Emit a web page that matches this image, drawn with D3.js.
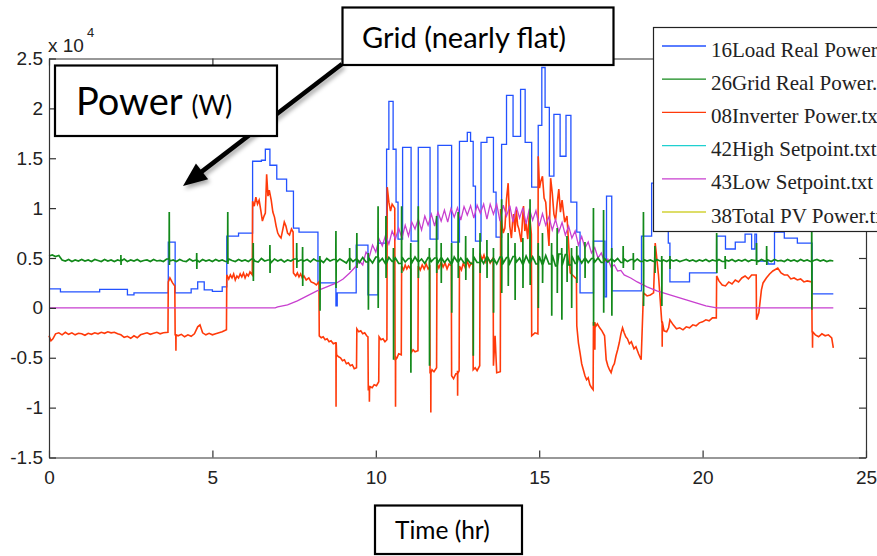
<!DOCTYPE html>
<html>
<head>
<meta charset="utf-8">
<script src="https://cdn.jsdelivr.net/npm/d3@7/dist/d3.min.js"></script>
<style>
  body { margin: 0; background: #fff; }
</style>
</head>
<body>
<div id="chart"></div>
<script>
// legend entries
const seriesNames = ["16Load Real Power", "26Grid Real Power.", "08Inverter Power.txt",
                     "42High Setpoint.txt", "43Low Setpoint.txt", "38Total PV Power.txt"];
const seriesColors = ["#2352ff", "#12891a", "#ff3a0a", "#1fd0d0", "#c83fcf", "#d2d236"];

const xTicks = [0, 5, 10, 15, 20, 25];
const yTicks = [-15000, -10000, -5000, 0, 5000, 10000, 15000, 20000, 25000];

// load: [hour start, W] held until next step
const loadSteps = [[0,1900],[0.35,1600],[1.55,1850],[2.4,1300],[2.6,1500],[3.65,6600],[3.86,1500],
  [4.35,1900],[4.55,2600],[4.75,1800],[5.0,1650],[5.3,2100],[5.44,7200],[5.8,7500],[6.23,14700],
  [6.5,14800],[6.62,15900],[6.76,14300],[6.97,12900],[7.27,11700],[7.48,8000],[7.65,7600],
  [8.23,2500],[8.78,200],[8.82,1500],[9.4,6300],[9.76,1300],[10.07,6500],[10.33,15900],[10.4,20700],
  [10.53,15900],[10.62,10600],[10.68,6900],[10.82,16100],[11.08,6700],[11.3,16100],[11.66,6900],
  [11.9,16300],[12.32,6600],[12.56,16700],[12.8,17600],[12.9,16700],[12.98,12200],[13.05,6700],
  [13.22,16600],[13.4,17100],[13.6,11600],[13.68,7100],[13.85,16400],[14.0,21300],[14.2,17200],
  [14.43,21900],[14.57,16600],[14.77,12100],[14.97,18300],[15.08,24100],[15.18,20100],[15.31,13200],
  [15.45,19400],[15.64,15200],[15.82,19300],[15.97,10600],[16.15,7600],[16.25,1500],[16.66,6700],
  [17.01,1100],[17.06,11200],[17.22,1700],[18.13,7200],[18.44,12500],[18.95,6500],[19.0,2600],
  [19.6,3500],[20.43,7200],[20.7,5900],[21.0,6600],[21.3,7400],[21.5,5900],[21.6,7400],[21.65,4700],
  [22.0,4400],[22.2,7600],[22.5,7000],[22.9,6500],[23.35,1400],[24.0,1400]];

// inverter: [hour, W]
const inverterPts = [[0,-2800],[0.06,-3300],[0.12,-3100],[0.2,-2600],[0.3,-2500],[0.4,-2700],[0.5,-2450],
  [0.6,-2650],[0.7,-2500],[0.8,-2700],[0.9,-2550],[1.0,-2600],[1.1,-2750],[1.2,-2550],[1.3,-2650],
  [1.4,-2500],[1.5,-2600],[1.6,-2450],[1.7,-2550],[1.8,-2400],[1.9,-2500],[2.0,-2450],[2.1,-2600],
  [2.2,-2700],[2.3,-2950],[2.4,-2850],[2.5,-3050],[2.6,-2800],[2.7,-3000],[2.8,-2700],[2.9,-2600],
  [3.0,-2500],[3.1,-2650],[3.2,-2550],[3.3,-2450],[3.4,-2600],[3.5,-2500],[3.64,-2450],[3.65,2600],
  [3.7,3000],[3.78,2500],[3.85,2200],[3.86,-2700],[3.95,-2800],[4.05,-2650],[4.15,-2900],[4.25,-2700],
  [4.35,-2850],[4.45,-2600],[4.55,-1900],[4.62,-1700],[4.7,-2500],[4.8,-2700],[4.9,-2550],[5.0,-2700],
  [5.1,-2600],[5.2,-2500],[5.3,-2400],[5.43,-2200],
  [5.44,3300],[5.5,2900],[5.55,3300],[5.6,3000],[5.65,3400],[5.7,2800],[5.75,3200],[5.8,3000],
  [5.85,3400],[5.9,3100],[5.95,3500],[6.0,3000],[6.05,3400],[6.1,3200],[6.15,3600],[6.22,3300],
  [6.23,10700],[6.28,10200],[6.33,11100],[6.38,10400],[6.43,10800],[6.48,9800],[6.53,8700],[6.58,9200],
  [6.62,9500],[6.66,13400],[6.7,11200],[6.74,11800],[6.8,10800],[6.85,9600],[6.9,9100],[6.95,8200],
  [7.0,7500],[7.05,7200],[7.1,7000],[7.15,7800],[7.2,8600],[7.25,8200],[7.3,7500],[7.36,7300],
  [7.42,7900],[7.47,7600],
  [7.48,3500],[7.55,3200],[7.6,3500],[7.65,3100],[7.7,3400],[7.75,3000],[7.8,3200],[7.87,2800],
  [7.95,3000],[8.02,2600],[8.1,2500],[8.18,2300],[8.26,2600],
  [8.27,-2800],[8.33,-3000],[8.39,-2900],[8.45,-3200],[8.51,-3100],[8.57,-3400],[8.63,-3300],
  [8.7,-3600],[8.77,-3500],
  [8.8,-4700],[8.86,-4900],[8.92,-5000],[8.98,-5300],[9.04,-5200],[9.1,-5600],[9.16,-5500],
  [9.22,-5800],[9.28,-5700],[9.34,-6100],[9.41,-6000],
  [9.42,-2100],[9.48,-2400],[9.54,-2300],[9.6,-2600],[9.66,-2500],[9.72,-2800],[9.76,-2900],
  [9.77,-8200],[9.83,-7900],[9.89,-8000],[9.95,-7700],[10.02,-7800],[10.09,-7400],
  [10.1,-2900],[10.16,-3200],[10.22,-3100],[10.28,-3400],[10.34,-3200],
  [10.35,12100],[10.4,10600],[10.45,9700],[10.5,10400],[10.58,10000],
  [10.59,-5200],[10.65,-5000],[10.7,-4600],[10.78,-4700],
  [10.79,4200],[10.85,3800],[10.9,4300],[10.95,3900],[11.0,4200],[11.07,3900],
  [11.08,-4500],[11.14,-4200],[11.2,-4400],[11.29,-4300],
  [11.3,4200],[11.36,3800],[11.42,4300],[11.48,3900],[11.54,4400],[11.6,3900],[11.65,4100],
  [11.66,-6500],[11.72,-6200],[11.78,-6400],[11.86,-6000],
  [11.87,4500],[11.93,4000],[12.0,4600],[12.06,4100],[12.12,4500],[12.18,3900],[12.24,4400],[12.31,4200],
  [12.32,-6800],[12.38,-7100],[12.45,-6600],[12.55,-6300],
  [12.56,4200],[12.62,3800],[12.68,4500],[12.74,4000],[12.8,4700],[12.86,4100],[12.92,4500],[12.97,4300],
  [12.98,-6200],[13.04,-6000],[13.1,-6300],[13.18,-5800],
  [13.19,5500],[13.25,4800],[13.31,5300],[13.37,4600],[13.43,5000],[13.5,4500],[13.59,5000],
  [13.6,-5800],[13.65,-2800],[13.7,-6500],[13.81,-6400],
  [13.82,9900],[13.86,8400],[13.9,7500],[13.95,8000],[14.0,10900],[14.05,12500],[14.1,8200],[14.15,7000],
  [14.19,8800],[14.22,9400],[14.26,7600],[14.3,9800],[14.34,8300],[14.38,7900],[14.45,6600],
  [14.49,8900],[14.52,10200],[14.56,7700],[14.6,8500],[14.65,6900],[14.7,9600],[14.76,7400],
  [14.77,-2800],[14.87,-2500],[14.96,-2600],
  [14.97,15200],[15.01,12000],[15.05,12700],[15.1,13200],[15.15,11000],[15.2,10600],[15.25,8300],
  [15.3,6200],[15.35,13000],[15.4,11500],[15.45,9400],[15.5,8800],[15.55,10500],[15.6,11900],
  [15.65,9600],[15.7,10800],[15.78,8600],[15.85,9200],[15.9,6400],
  [15.95,3500],[16.05,3200],[16.14,2900],
  [16.15,-1800],[16.2,-3500],[16.25,-4500],[16.3,-5600],[16.35,-6200],[16.4,-6800],[16.45,-7200],
  [16.5,-7000],[16.55,-7700],[16.6,-8000],[16.65,-8200],
  [16.66,-1500],[16.72,-1900],[16.78,-1600],[16.85,-2000],[16.92,-2300],[17.0,-2800],
  [17.05,-5200],[17.1,-5800],[17.15,-6200],[17.2,-6500],[17.25,-5900],[17.3,-5600],[17.35,-4800],
  [17.4,-4200],[17.45,-3500],[17.5,-2600],[17.55,-2000],[17.6,-2500],[17.65,-2900],[17.7,-3100],
  [17.76,-3600],[17.82,-3400],[17.9,-4100],[17.96,-3900],[18.04,-4600],[18.12,-5200],
  [18.19,1500],[18.3,1200],[18.4,1300],[18.5,1500],
  [18.55,6500],[18.65,3300],
  [18.75,-1400],[18.82,-2300],[18.9,-2400],[18.96,-2000],[19.0,-1200],[19.1,-1700],[19.2,-2100],
  [19.3,-2000],[19.4,-2200],[19.5,-1900],[19.6,-2000],[19.7,-1700],[19.8,-1800],[19.9,-1500],
  [20.0,-1400],[20.1,-1200],[20.2,-1300],[20.3,-1000],[20.42,-1000],
  [20.43,3200],[20.5,2700],[20.6,2300],[20.7,2200],[20.8,2600],[20.9,2400],[21.0,2800],[21.1,2600],
  [21.2,3000],[21.3,3200],[21.4,2900],[21.5,3300],[21.64,3300],
  [21.65,-1200],[21.72,-500],[21.8,1800],[21.85,2500],[21.95,3000],[22.05,3400],[22.15,3700],
  [22.3,4000],[22.4,3500],[22.5,3300],[22.6,3300],[22.7,2900],[22.8,3000],[22.9,2800],[23.0,2900],
  [23.1,2600],[23.2,2700],[23.34,2600],
  [23.35,-2400],[23.45,-2700],[23.55,-2900],[23.65,-2600],[23.75,-2800],[23.85,-2700],[23.95,-3000],
  [24.0,-4000]];

// thin inverter spikes: [hour, top, bottom]
const inverterSpikes = [[3.88,-2700,-4300],[8.78,-3500,-9900],[9.8,-7800,-9400],[10.6,-4800,-9900],
  [11.68,-6200,-10500],[12.5,-6300,-8800],[16.7,-1500,-4200],[18.76,-1400,-3900],[23.36,-2400,-4000]];

// grid, sampled every 0.1 h from 0 to 24 h
const gridBase = [
  5200,5300,5150,5250,4800,4700,4850,4650,4800,4700,
  4850,4700,4800,4650,4850,4750,4650,4850,4700,4800,
  4650,4800,4700,4900,4650,4800,4700,4850,4650,4750,
  4800,4650,4850,4700,4750,4650,4900,4700,4800,4650,
  4850,4700,4650,4900,4700,4800,4600,4850,4700,4800,
  4650,4850,4700,4800,4650,4900,4750,4650,4850,4700,
  4800,4650,4900,4700,4600,4950,4700,4800,4550,4900,
  4700,4850,4600,4800,4700,4900,4650,4800,4700,4850,
  4600,4900,4700,4800,4550,4950,4700,4850,4600,4900,
  4700,4500,5000,4650,4900,4550,5050,4600,4950,4500,
  5100,4600,4950,4400,5050,4650,5000,4450,5100,4600,
  4950,4500,5100,4600,4900,4450,5050,4650,5000,4500,
  5050,4550,4950,4400,5100,4600,5000,4500,4900,4450,
  5100,4550,5000,4450,5150,4600,4950,4400,5100,4500,
  5050,4450,5150,4600,5000,4350,5200,4500,5100,4400,
  5200,4300,5250,4400,5300,4200,5400,4250,5350,4300,
  5200,4450,5100,4500,5000,4550,4950,4600,5000,4550,
  4950,4600,4900,4650,4950,4550,4900,4650,4850,4600,
  4900,4650,4850,4700,4800,4650,4850,4700,4800,4650,
  4850,4700,4800,4650,4750,4850,4700,4800,4650,4800,
  4700,4850,4650,4800,4700,4850,4650,4800,4700,4850,
  4650,4800,4700,4850,4650,4800,4750,4650,4850,4700,
  4800,4650,4850,4700,4750,4650,4850,4700,4800,4650,
  4850,4700,4800,4650,4750,4850,4700,4800,4650,4750,
  4700];

// grid spikes: [hour, top, bottom]
const gridSpikes = [[2.2,5300,4300],[3.68,9600,4300],[4.52,5500,3900],[5.47,9600,4400],[6.25,6500,2700],
  [6.76,6300,3500],[7.58,6500,4000],[7.76,6100,2200],[8.29,5200,-300],[8.78,7700,2000],[9.2,6000,3800],
  [9.42,7500,4000],[9.77,5500,-200],[10.07,10200,0],[10.31,9200,3000],[10.54,6000,-5200],
  [10.79,10200,3500],[11.07,6500,-6500],[11.3,10200,3000],[11.64,6000,-5800],[11.86,9200,3500],
  [12.0,6500,2500],[12.32,6500,-500],[12.52,9600,3000],[12.75,7200,2800],[12.98,6000,-4800],
  [13.19,7500,3500],[13.4,6800,3000],[13.6,6000,-500],[13.85,10900,1500],[14.05,7500,2200],
  [14.26,6500,800],[14.5,7000,2000],[14.72,10900,2300],[14.97,6500,0],[15.1,7500,2500],
  [15.38,6500,-800],[15.55,8000,1500],[15.69,6000,-1200],[15.85,7200,2600],[15.99,6000,0],
  [16.15,6200,2500],[16.4,6600,3000],[16.66,10000,-1800],[16.97,9800,-500],[17.22,6000,-800],
  [17.57,6200,4000],[17.88,5500,3800],[18.19,9600,200],[18.54,6200,3500],[18.75,5200,200],
  [19.0,5200,3900],[20.43,7500,3500],[20.69,5200,3900],[21.65,6500,4300],[21.96,6200,4300],
  [23.34,10000,-200]];

// low setpoint: [hour, W]
const lowSetpoint = [[0,0],[6.92,0],[7.0,100],[7.3,300],[7.6,700],[7.9,1200],[8.2,1700],[8.5,2100],
  [8.8,2500],[9.0,2900],[9.2,3500],[9.4,4200],[9.5,4700],[9.6,4300],[9.7,5600],[9.8,5100],[9.9,6300],
  [10.0,5600],[10.1,6900],[10.2,6200],[10.3,7300],[10.4,6400],[10.5,7700],[10.6,6900],[10.7,8000],
  [10.8,7000],[10.9,8300],[11.0,7200],[11.1,8600],[11.2,7900],[11.3,8900],[11.4,7800],[11.5,9200],
  [11.6,8300],[11.7,9400],[11.8,8200],[11.9,9600],[12.0,8700],[12.1,9800],[12.2,8600],[12.3,9950],
  [12.4,9100],[12.5,10050],[12.6,8800],[12.7,10150],[12.8,9300],[12.9,10250],[13.0,9000],[13.1,10300],
  [13.2,9500],[13.3,10400],[13.4,8900],[13.5,10400],[13.6,9400],[13.7,10400],[13.8,8700],[13.9,10300],
  [14.0,9200],[14.1,10250],[14.2,8600],[14.3,10150],[14.4,9000],[14.5,10050],[14.6,8400],[14.7,9950],
  [14.8,8800],[14.9,9750],[15.0,8200],[15.1,9450],[15.2,8300],[15.3,9150],[15.4,7800],[15.5,8850],
  [15.6,7600],[15.7,8550],[15.8,7300],[15.9,8200],[16.0,7000],[16.1,7700],[16.2,6300],[16.3,7150],
  [16.4,6000],[16.5,6600],[16.6,5500],[16.7,6050],[16.8,5000],[16.9,5500],[17.0,4600],[17.1,4900],
  [17.2,4100],[17.3,4300],[17.4,3700],[17.5,3750],[17.6,3300],[17.8,3000],[18.0,2600],[18.3,2100],
  [18.6,1700],[18.9,1400],[19.2,1100],[19.5,800],[19.8,500],[20.1,200],[20.43,0],[24,0]];

const highSetpoint = [];
const pvPower = [];

const width = 877, height = 556;

let svg = d3.select("#chart")
  .append("svg")
    .attr("width", width)
    .attr("height", height)
    .style("display", "block");

svg.append("rect")
  .attr("width", width)
  .attr("height", height)
  .attr("fill", "#fff");

let x = d3.scaleLinear().domain([0, 25]).range([49, 866]);
let y = d3.scaleLinear().domain([-15000, 25000]).range([457.5, 58.5]);

// put each spike in as a thin vertical stroke sitting on the series
function withSpikes(points, spikes) {
  let all = points.slice();
  spikes.forEach(function(s) {
    let prev = points.filter(function(p) { return p[0] <= s[0]; });
    let base = prev.length ? prev[prev.length - 1][1] : points[0][1];
    all.push([s[0] - 0.004, base]);
    all.push([s[0], s[1]]);
    all.push([s[0] + 0.004, s[2]]);
    all.push([s[0] + 0.008, base]);
  });
  all.sort(function(a, b) { return a[0] - b[0]; });
  return all;
}

let gridPts = withSpikes(gridBase.map(function(v, i) { return [i / 10, v]; }), gridSpikes);
let inverterAll = withSpikes(inverterPts, inverterSpikes);

let line = d3.line()
  .x(function(d) { return x(d[0]); })
  .y(function(d) { return y(d[1]); });

let stepLine = d3.line()
  .curve(d3.curveStepAfter)
  .x(function(d) { return x(d[0]); })
  .y(function(d) { return y(d[1]); });

let plot = svg.append("g");

plot.append("path")
  .attr("d", stepLine(loadSteps))
  .attr("fill", "none")
  .attr("stroke", seriesColors[0])
  .attr("stroke-width", 1.3);

plot.append("path")
  .attr("d", line(inverterAll))
  .attr("fill", "none")
  .attr("stroke", seriesColors[2])
  .attr("stroke-width", 1.6);

plot.append("path")
  .attr("d", line(lowSetpoint))
  .attr("fill", "none")
  .attr("stroke", seriesColors[4])
  .attr("stroke-width", 1.3);

plot.append("path")
  .attr("d", line(gridPts))
  .attr("fill", "none")
  .attr("stroke", seriesColors[1])
  .attr("stroke-width", 1.7);

// axes, MATLAB style box with inward ticks
let axisColor = "#333";

svg.append("g")
  .attr("transform", "translate(0," + y(-15000) + ")")
  .call(d3.axisBottom(x).tickValues(xTicks).tickSize(-7).tickSizeOuter(0).tickPadding(13)
        .tickFormat(function(d) { return String(d); }));

svg.append("g")
  .attr("transform", "translate(" + x(0) + ",0)")
  .call(d3.axisLeft(y).tickValues(yTicks).tickSize(-7).tickSizeOuter(0).tickPadding(6)
        .tickFormat(function(d) { return String(d / 10000); }));

svg.append("g")
  .attr("transform", "translate(0," + y(25000) + ")")
  .call(d3.axisTop(x).tickValues(xTicks).tickSize(-7).tickSizeOuter(0).tickFormat(""));

svg.append("g")
  .attr("transform", "translate(" + x(25) + ",0)")
  .call(d3.axisRight(y).tickValues(yTicks).tickSize(-7).tickSizeOuter(0).tickFormat(""));

svg.selectAll(".domain, .tick line")
  .attr("stroke", axisColor)
  .attr("stroke-width", 1.2);

svg.selectAll(".tick text")
  .style("font-family", "'Liberation Sans', Arial, sans-serif")
  .style("font-size", "19px")
  .attr("fill", "#222");

svg.append("text")
  .attr("x", 48)
  .attr("y", 52)
  .style("font-family", "'Liberation Sans', Arial, sans-serif")
  .style("font-size", "19px")
  .attr("fill", "#222")
  .text("x 10");

svg.append("text")
  .attr("x", 87)
  .attr("y", 37)
  .style("font-family", "'Liberation Sans', Arial, sans-serif")
  .style("font-size", "13px")
  .attr("fill", "#222")
  .text("4");

// legend
let legend = svg.append("g");

legend.append("rect")
  .attr("x", 653.5)
  .attr("y", 27.5)
  .attr("width", 240)
  .attr("height", 204)
  .attr("fill", "#fff")
  .attr("stroke", "#222")
  .attr("stroke-width", 1.2);

seriesNames.forEach(function(name, i) {
  let ly = 46 + i * 33.2;
  legend.append("line")
    .attr("x1", 662)
    .attr("x2", 706)
    .attr("y1", ly)
    .attr("y2", ly)
    .attr("stroke", seriesColors[i])
    .attr("stroke-width", 1.3);
  legend.append("text")
    .attr("x", 711)
    .attr("y", ly + 10.5)
    .style("font-family", "'Liberation Serif', 'Times New Roman', serif")
    .style("font-size", "21px")
    .attr("fill", "#222")
    .text(name);
});

// annotations
let defs = svg.append("defs");
defs.append("filter")
  .attr("id", "shadow")
  .attr("x", "-20%").attr("y", "-20%").attr("width", "140%").attr("height", "140%")
  .append("feDropShadow")
    .attr("dx", 2)
    .attr("dy", 3)
    .attr("stdDeviation", 2)
    .attr("flood-color", "#000")
    .attr("flood-opacity", 0.35);

let ax0 = 342, ay0 = 64, ax1 = 183, ay1 = 186;
let len = Math.hypot(ax1 - ax0, ay1 - ay0);
let ux = (ax1 - ax0) / len, uy = (ay1 - ay0) / len;
let headLen = 24, headW = 10;
let bx = ax1 - ux * headLen, by = ay1 - uy * headLen;

let arrow = svg.append("g").attr("filter", "url(#shadow)");
arrow.append("line")
  .attr("x1", ax0).attr("y1", ay0)
  .attr("x2", bx + ux * 2).attr("y2", by + uy * 2)
  .attr("stroke", "#000")
  .attr("stroke-width", 4.5);
arrow.append("path")
  .attr("d", "M" + ax1 + "," + ay1 +
             "L" + (bx - uy * headW) + "," + (by + ux * headW) +
             "L" + (bx + uy * headW) + "," + (by - ux * headW) + "Z")
  .attr("fill", "#000");

function noteBox(bx0, by0, bw, bh) {
  svg.append("rect")
    .attr("x", bx0).attr("y", by0)
    .attr("width", bw).attr("height", bh)
    .attr("fill", "#fff")
    .attr("stroke", "#000")
    .attr("stroke-width", 2.2);
}

noteBox(55, 65.5, 222, 70.5);
let powerText = svg.append("text")
  .attr("x", 76)
  .attr("y", 115)
  .style("font-family", "Lato, 'Open Sans', sans-serif")
  .attr("fill", "#000");
powerText.append("tspan").style("font-size", "38px").text("Power ");
powerText.append("tspan").style("font-size", "26px").text("(W)");

noteBox(342.5, 7.5, 271, 57.5);
svg.append("text")
  .attr("x", 362)
  .attr("y", 48)
  .style("font-family", "Lato, 'Open Sans', sans-serif")
  .style("font-size", "29px")
  .attr("fill", "#000")
  .text("Grid (nearly flat)");

noteBox(375, 505.5, 147, 48.5);
svg.append("text")
  .attr("x", 395)
  .attr("y", 539)
  .style("font-family", "Lato, 'Open Sans', sans-serif")
  .style("font-size", "24.5px")
  .attr("fill", "#000")
  .text("Time (hr)");
</script>
</body>
</html>
